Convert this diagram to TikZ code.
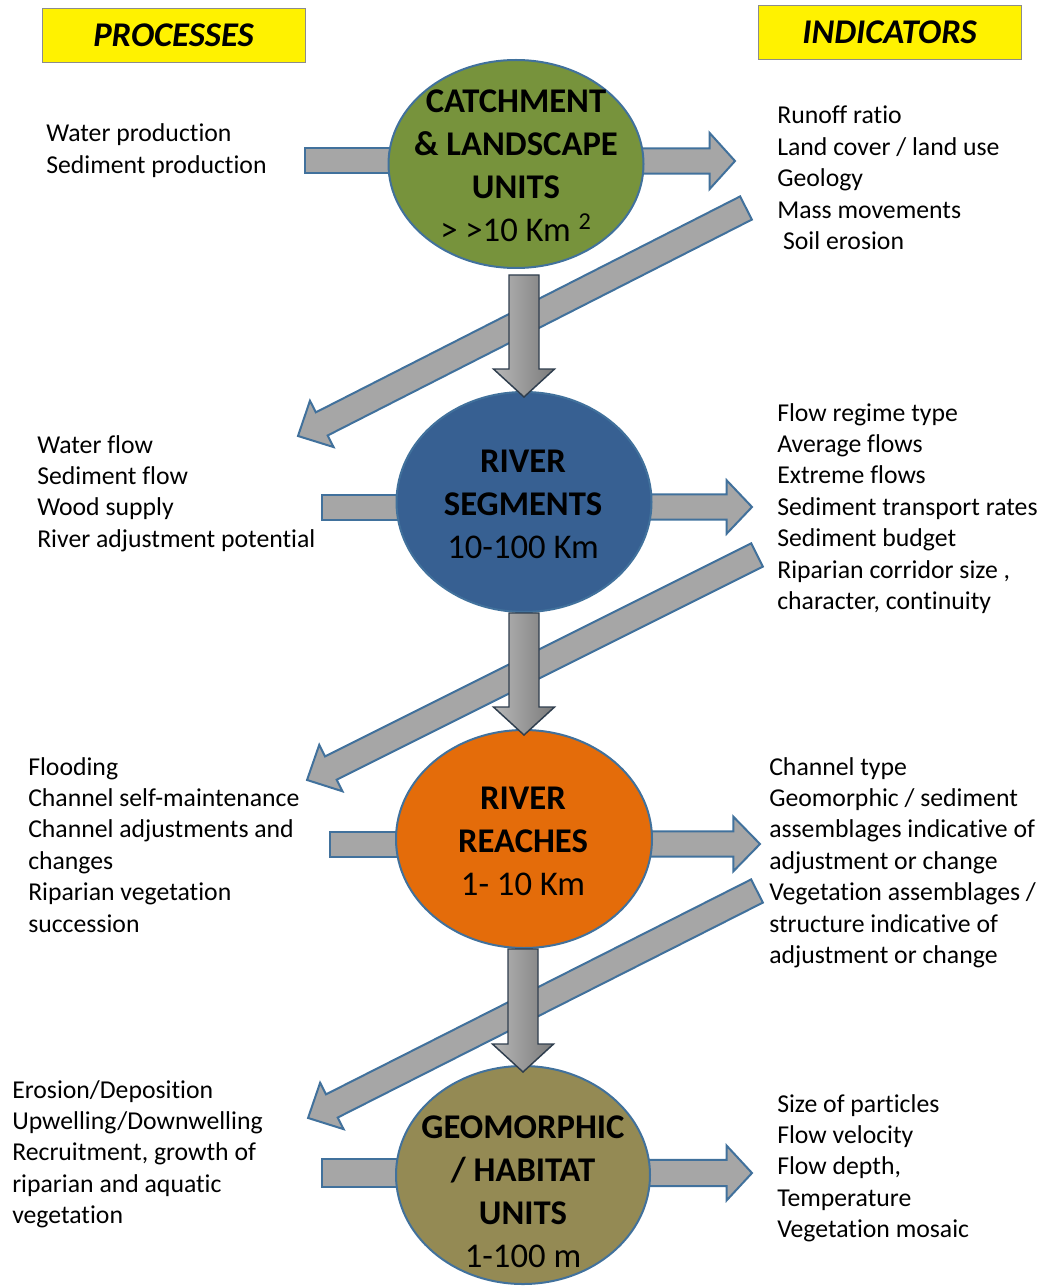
\documentclass[tikz,border=0pt]{standalone}
\usepackage{fontspec}
\setmainfont{Carlito}[Ligatures={NoCommon}]
\usetikzlibrary{calc,shapes.geometric}
\definecolor{egreen}{HTML}{77933C}
\definecolor{eblue}{HTML}{376092}
\definecolor{eorange}{HTML}{E46C0A}
\definecolor{eolive}{HTML}{948A54}
\definecolor{edge}{HTML}{41719C}
\definecolor{agray}{HTML}{A6A6A6}
\definecolor{vdark}{HTML}{2F3E4E}
\newcommand\lft[1]{\begin{tabular}[t]{@{}l@{}}#1\end{tabular}}
\newcommand\ctr[1]{\begin{tabular}[t]{@{}c@{}}#1\end{tabular}}
\newcommand\blockarrow[6]{%
  \draw[#1] let \p1=#2, \p2=#3, \n1={atan2(\y2-\y1,\x2-\x1)}, \n2={veclen(\x2-\x1,\y2-\y1)} in
  [shift={(\p1)}, rotate=\n1]
  (0pt,#4) -- ({\n2-#6},#4) -- ({\n2-#6},#5) -- ({\n2+0pt},0pt) -- ({\n2-#6},-#5) -- ({\n2-#6},-#4) -- (0pt,-#4) -- cycle;}
\begin{document}
\begin{tikzpicture}[x=0.75pt,y=-0.75pt,
  txt/.style={anchor=base west, inner sep=0pt, font=\fontsize{19.3}{23.6}\selectfont},
  etxt/.style={anchor=base, inner sep=0pt, font=\fontsize{26}{32.25}\selectfont},
  title/.style={draw=black!45, line width=0.6pt, fill=yellow, inner sep=0pt, font=\fontsize{26}{30}\selectfont\bfseries\itshape},
  ell/.style={ellipse, draw=edge, line width=1.5pt, inner sep=0pt},
  barrow/.style={draw=edge, line width=1.5pt, fill=agray, line join=miter},
  varrow/.style={draw=vdark, line width=1.1pt, left color=black!28, middle color=black!18, right color=black!52, line join=miter}]
\useasboundingbox (0,0) rectangle (1043,1287);

% title boxes
\node[title, minimum width=197.25pt, minimum height=40.5pt] (tp) at (173.5,35) {PROCESSES};
\node[title, minimum width=197.25pt, minimum height=40.5pt] (ti) at (889.5,32) {INDICATORS};

% reference coordinates
\coordinate (p1) at (305,160.5);
\coordinate (p2) at (322,507.5);
\coordinate (p3) at (330,844.5);
\coordinate (p4) at (322,1173);
\coordinate (q1) at (735,161);
\coordinate (q2) at (752,507);
\coordinate (q3) at (760,844);
\coordinate (q4) at (752,1173);
\coordinate (d1s) at (746,208);
\coordinate (d1e) at (298,436);
\coordinate (d2s) at (757,555);
\coordinate (d2e) at (307,780);
\coordinate (d3s) at (757,891);
\coordinate (d3e) at (308,1118);

% ellipse positions
\coordinate (c1) at (516,164);
\coordinate (c2) at (524,502);
\coordinate (c3) at (524,839);
\coordinate (c4) at (523,1175);

% horizontal arrows (behind ellipses)
\draw[barrow] ($(p1)+(0,-12.5)$) rectangle ($(c1 |- p1)+(0,12.5)$);
\draw[barrow] ($(p2)+(0,-12.5)$) rectangle ($(c2 |- p2)+(0,12.5)$);
\draw[barrow] ($(p3)+(0,-12.5)$) rectangle ($(c3 |- p3)+(0,12.5)$);
\draw[barrow] ($(p4)+(0,-14)$) rectangle ($(c4 |- p4)+(0,14)$);
\blockarrow{barrow}{(c1 |- q1)}{(q1)}{9.4pt}{21pt}{19pt}
\blockarrow{barrow}{(c2 |- q2)}{(q2)}{9.4pt}{20pt}{19pt}
\blockarrow{barrow}{(c3 |- q3)}{(q3)}{9.4pt}{20.5pt}{20pt}
\blockarrow{barrow}{(c4 |- q4)}{(q4)}{9.8pt}{20.5pt}{19pt}

% diagonal arrows
\blockarrow{barrow}{(d1s)}{(d1e)}{9.75pt}{19.5pt}{20pt}
\blockarrow{barrow}{(d2s)}{(d2e)}{9.75pt}{19.5pt}{20pt}
\blockarrow{barrow}{(d3s)}{(d3e)}{9.75pt}{19.5pt}{20pt}

% ellipses
\node[ell, fill=egreen, minimum width=191.25pt, minimum height=156pt] (e1) at (c1) {};
\node[ell, fill=eblue, minimum width=191.25pt, minimum height=165pt] (e2) at (c2) {};
\node[ell, fill=eorange, minimum width=192pt, minimum height=163.5pt] (e3) at (c3) {};
\node[ell, fill=eolive, minimum width=190.5pt, minimum height=163.5pt] (e4) at (c4) {};

% vertical arrows
\blockarrow{varrow}{($(e2.north |- e1.south)+(0,6)$)}{($(e2.north)+(0,6)$)}{11.25pt}{22.9pt}{21pt}
\blockarrow{varrow}{(e3.north |- e2.south)}{($(e3.north)+(0,6)$)}{11.25pt}{22.9pt}{21pt}
\blockarrow{varrow}{(e4.north |- e3.south)}{($(e4.north)+(0,7)$)}{11.25pt}{22.9pt}{21pt}

% ellipse texts
\node[etxt] (t1) at (516,113) {\ctr{\textbf{CATCHMENT}\\\textbf{\& LANDSCAPE}\\\textbf{UNITS}\\> >10 Km \textsuperscript{2}}};
\node[etxt] (t2) at (523,472) {\ctr{\textbf{RIVER}\\\textbf{SEGMENTS}\\10-100 Km}};
\node[etxt] (t3) at (523,809) {\ctr{\textbf{RIVER}\\\textbf{REACHES}\\1- 10 Km}};
\node[etxt] (t4) at (523,1138) {\ctr{\textbf{GEOMORPHIC}\\\textbf{/ HABITAT}\\\textbf{UNITS}\\1-100 m}};

% process texts
\node[txt] (l1) at (46,142) {\lft{Water production\\Sediment production}};
\node[txt] (l2) at (37,453) {\lft{Water flow\\Sediment flow\\Wood supply\\River adjustment potential}};
\node[txt] (l3) at (28,775) {\lft{Flooding\\Channel self-maintenance\\Channel adjustments and\\changes\\Riparian vegetation\\succession}};
\node[txt] (l4) at (12,1098) {\lft{Erosion/Deposition\\Upwelling/Downwelling\\Recruitment, growth of\\riparian and aquatic\\vegetation}};

% indicator texts
\node[txt] (r1) at (777,124) {\lft{Runoff ratio\\Land cover / land use\\Geology\\Mass movements\\\ Soil erosion}};
\node[txt] (r2) at (777,421) {\lft{Flow regime type\\Average flows\\Extreme flows\\Sediment transport rates\\Sediment budget\\Riparian corridor size ,\\character, continuity}};
\node[txt] (r3) at (769,775) {\lft{Channel type\\Geomorphic / sediment\\assemblages indicative of\\adjustment or change\\Vegetation assemblages /\\structure indicative of\\adjustment or change}};
\node[txt] (r4) at (777,1112) {\lft{Size of particles\\Flow velocity\\Flow depth,\\Temperature\\Vegetation mosaic}};
\end{tikzpicture}
\end{document}
